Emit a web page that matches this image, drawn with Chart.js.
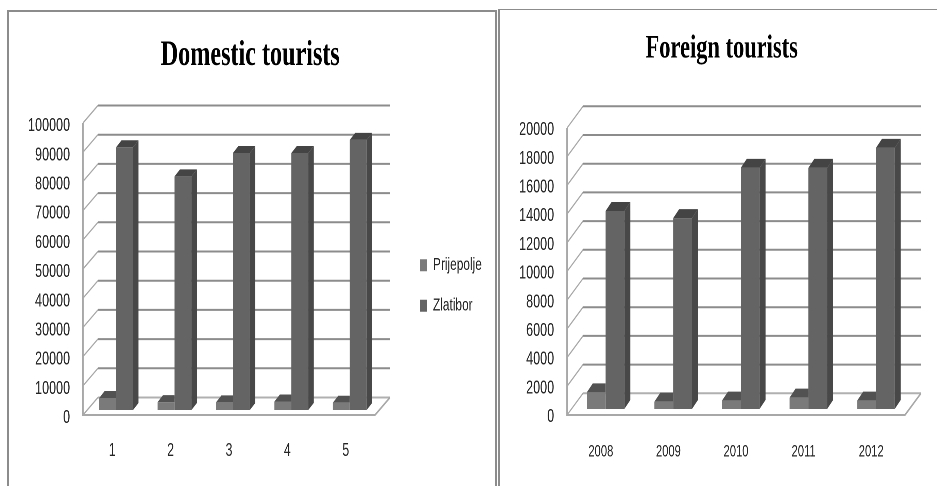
<!DOCTYPE html>
<html>
<head>
<meta charset="utf-8">
<script src="https://cdn.jsdelivr.net/npm/chart.js@4"></script>
<style>
    html, body { margin: 0; background: #fff; width: 937px; height: 486px; overflow: hidden; }
    .panel { position: absolute; box-sizing: border-box; background: #fff; }
    #panelLeft { left: 7px; top: 10px; width: 490px; height: 476px; border: 2px solid #8c8c8c; border-bottom: 0; }
    #panelRight { left: 498px; top: 9px; width: 439px; height: 477px; border-top: 1.5px solid #8c8c8c; border-left: 2px solid #8c8c8c; }
    /* the original picture is squeezed sideways, so the canvases are too */
    canvas { position: absolute; top: 0; transform: scaleX(0.68); transform-origin: 0 0; }
    #domesticChart { left: 0; }
    #foreignChart { left: 498px; }
</style>
</head>
<body>
<div class="panel" id="panelLeft"></div>
<div class="panel" id="panelRight"></div>
<canvas id="domesticChart" width="731" height="486"></canvas>
<canvas id="foreignChart" width="645" height="486"></canvas>
<script>
// ── Data ───────────────────────────────────────────────────────────────────

const domesticCategories = ['1', '2', '3', '4', '5'];
const domesticPrijepolje = [4100, 2700, 2600, 2900, 2500];
const domesticZlatibor   = [90000, 80000, 88000, 88000, 92500];

const foreignCategories = ['2008', '2009', '2010', '2011', '2012'];
const foreignPrijepolje = [1160, 510, 580, 790, 580];
const foreignZlatibor   = [13800, 13300, 16800, 16800, 18200];

const PRIJEPOLJE_COLOR = '#7a7a7a';
const ZLATIBOR_COLOR   = '#646464';
const TEXT_COLOR = '#262626';
const FONT_SANS  = '"Liberation Sans", Arial, sans-serif';
const FONT_SERIF = '"Liberation Serif", "Times New Roman", serif';

// ── Fake 3D: walls, floor and bar sides ────────────────────────────────────

const wall3d = {
    id: 'wall3d',

    afterLayout(chart, args, opts) {
        // title sits over the whole panel, legend floats right of the plot
        chart.titleBlock.left  = opts.titleCenter - 250;
        chart.titleBlock.right = opts.titleCenter + 250;
        if (opts.legendLeft === undefined) return;
        chart.legend.left   = opts.legendLeft;
        chart.legend.right  = opts.legendLeft + 140;
        chart.legend.top    = opts.legendTop;
        chart.legend.bottom = opts.legendTop + 120;
    },

    beforeDraw(chart, args, opts) {
        const { ctx, chartArea: area, scales: { y } } = chart;
        const { dx, dy } = opts;

        ctx.save();
        y.ticks.forEach(tick => {
            const py = y.getPixelForValue(tick.value);
            ctx.strokeStyle = '#a8a8a8';
            ctx.lineWidth = 1.5;
            ctx.beginPath();
            ctx.moveTo(area.left, py);
            ctx.lineTo(area.left + dx, py - dy);
            ctx.stroke();

            ctx.strokeStyle = tick.value === 0 ? '#b0b0b0' : '#8c8c8c';
            ctx.lineWidth = 2;
            ctx.beginPath();
            ctx.moveTo(area.left + dx, py - dy);
            ctx.lineTo(area.right + dx, py - dy);
            ctx.stroke();
        });

        // front axis and floor
        ctx.strokeStyle = '#a8a8a8';
        ctx.lineWidth = 2;
        ctx.beginPath();
        ctx.moveTo(area.left, area.top);
        ctx.lineTo(area.left, area.bottom);
        ctx.lineTo(area.right, area.bottom);
        ctx.lineTo(area.right + dx, area.bottom - dy);
        ctx.stroke();
        ctx.restore();
    },

    beforeDatasetDraw(chart, args, opts) {
        const { ctx } = chart;
        const { barShiftX, barShiftY, barDx, barDy } = opts;
        const isFront = args.index === 0; // Chart.js paints dataset 0 last

        ctx.save();
        ctx.translate(barShiftX, -barShiftY);

        args.meta.data.forEach(bar => {
            const left  = bar.x - bar.width / 2;
            const right = bar.x + bar.width / 2;

            // top face, the front series stops where the next bar starts
            ctx.fillStyle = isFront ? '#525252' : '#444444';
            ctx.beginPath();
            ctx.moveTo(left, bar.y);
            ctx.lineTo(left + barDx, bar.y - barDy);
            ctx.lineTo(isFront ? right : right + barDx, bar.y - barDy);
            ctx.lineTo(right, bar.y);
            ctx.closePath();
            ctx.fill();

            if (!isFront) {
                ctx.fillStyle = '#484848';
                ctx.beginPath();
                ctx.moveTo(right, bar.y);
                ctx.lineTo(right + barDx, bar.y - barDy);
                ctx.lineTo(right + barDx, bar.base - barDy);
                ctx.lineTo(right, bar.base);
                ctx.closePath();
                ctx.fill();
            }
        });
    },

    afterDatasetDraw(chart) {
        chart.ctx.restore();
    },
};

// ── Charts ─────────────────────────────────────────────────────────────────

function buildChart(canvasId, cfg) {
    return new Chart(document.getElementById(canvasId), {
        type: 'bar',
        plugins: [wall3d],
        data: {
            labels: cfg.categories,
            datasets: [
                { label: 'Prijepolje', data: cfg.prijepolje, backgroundColor: PRIJEPOLJE_COLOR },
                { label: 'Zlatibor',   data: cfg.zlatibor,   backgroundColor: ZLATIBOR_COLOR },
            ],
        },
        options: {
            responsive: false,
            animation: false,
            devicePixelRatio: 2,
            layout: { padding: { right: cfg.paddingRight, left: 0, top: 0, bottom: 0 } },
            datasets: { bar: { categoryPercentage: cfg.categoryPercentage, barPercentage: 1, borderWidth: 0, clip: false } },
            plugins: {
                title: {
                    display: true,
                    text: cfg.title,
                    color: '#000',
                    font: { family: FONT_SERIF, size: cfg.titleSize, weight: 'bold', lineHeight: 1.2 },
                    padding: cfg.titlePadding,
                },
                legend: cfg.legend,
                tooltip: { enabled: false },
                wall3d: cfg.depth,
            },
            scales: {
                x: {
                    grid: { display: false, drawTicks: false },
                    border: { display: false },
                    ticks: {
                        color: TEXT_COLOR,
                        font: { family: FONT_SANS, size: cfg.xFontSize },
                        padding: cfg.xPadding,
                        maxRotation: 0,
                        autoSkip: false,
                    },
                    afterFit(scale) { scale.height = cfg.xHeight; },
                },
                y: {
                    min: 0,
                    max: cfg.yMax,
                    grid: { display: false, drawTicks: false },
                    border: { display: false },
                    ticks: {
                        stepSize: cfg.yStep,
                        color: TEXT_COLOR,
                        font: { family: FONT_SANS, size: 18.5 },
                        padding: 19,
                        labelOffset: cfg.yLabelOffset,
                        callback: v => String(v),
                    },
                    afterFit(scale) { scale.width = cfg.yWidth; },
                },
            },
        },
    });
}

buildChart('domesticChart', {
    title: 'Domestic tourists',
    titleSize: 35.5,
    categories: domesticCategories,
    prijepolje: domesticPrijepolje,
    zlatibor: domesticZlatibor,
    yMax: 100000,
    yStep: 10000,
    yWidth: 122,
    yLabelOffset: 3,
    xHeight: 71,
    xFontSize: 18,
    xPadding: 25,
    categoryPercentage: 0.58,
    paddingRight: 99.5,
    titlePadding: { top: 34.7, bottom: 45.7 },
    legend: {
        display: true,
        position: 'right',
        align: 'start',
        maxWidth: 80,
        labels: {
            boxWidth: 10.3,
            boxHeight: 12,
            padding: 23,
            color: TEXT_COLOR,
            font: { family: FONT_SANS, size: 17.5 },
        },
    },
    depth: {
        dx: 22, dy: 17.5,
        barShiftX: 5.8, barShiftY: 5,
        barDx: 8, barDy: 7,
        titleCenter: 368,
        legendLeft: 594.6,
        legendTop: 233.5,
    },
});

buildChart('foreignChart', {
    title: 'Foreign tourists',
    titleSize: 33,
    categories: foreignCategories,
    prijepolje: foreignPrijepolje,
    zlatibor: foreignZlatibor,
    yMax: 20000,
    yStep: 2000,
    yWidth: 101.5,
    yLabelOffset: 2,
    xHeight: 71,
    xFontSize: 16.5,
    xPadding: 27,
    categoryPercentage: 0.556,
    paddingRight: 46.5,
    titlePadding: { top: 29, bottom: 59.4 },
    legend: { display: false },
    depth: {
        dx: 23.5, dy: 21.7,
        barShiftX: 7, barShiftY: 6,
        barDx: 8.8, barDy: 9,
        titleCenter: 329,
    },
});
</script>
</body>
</html>
